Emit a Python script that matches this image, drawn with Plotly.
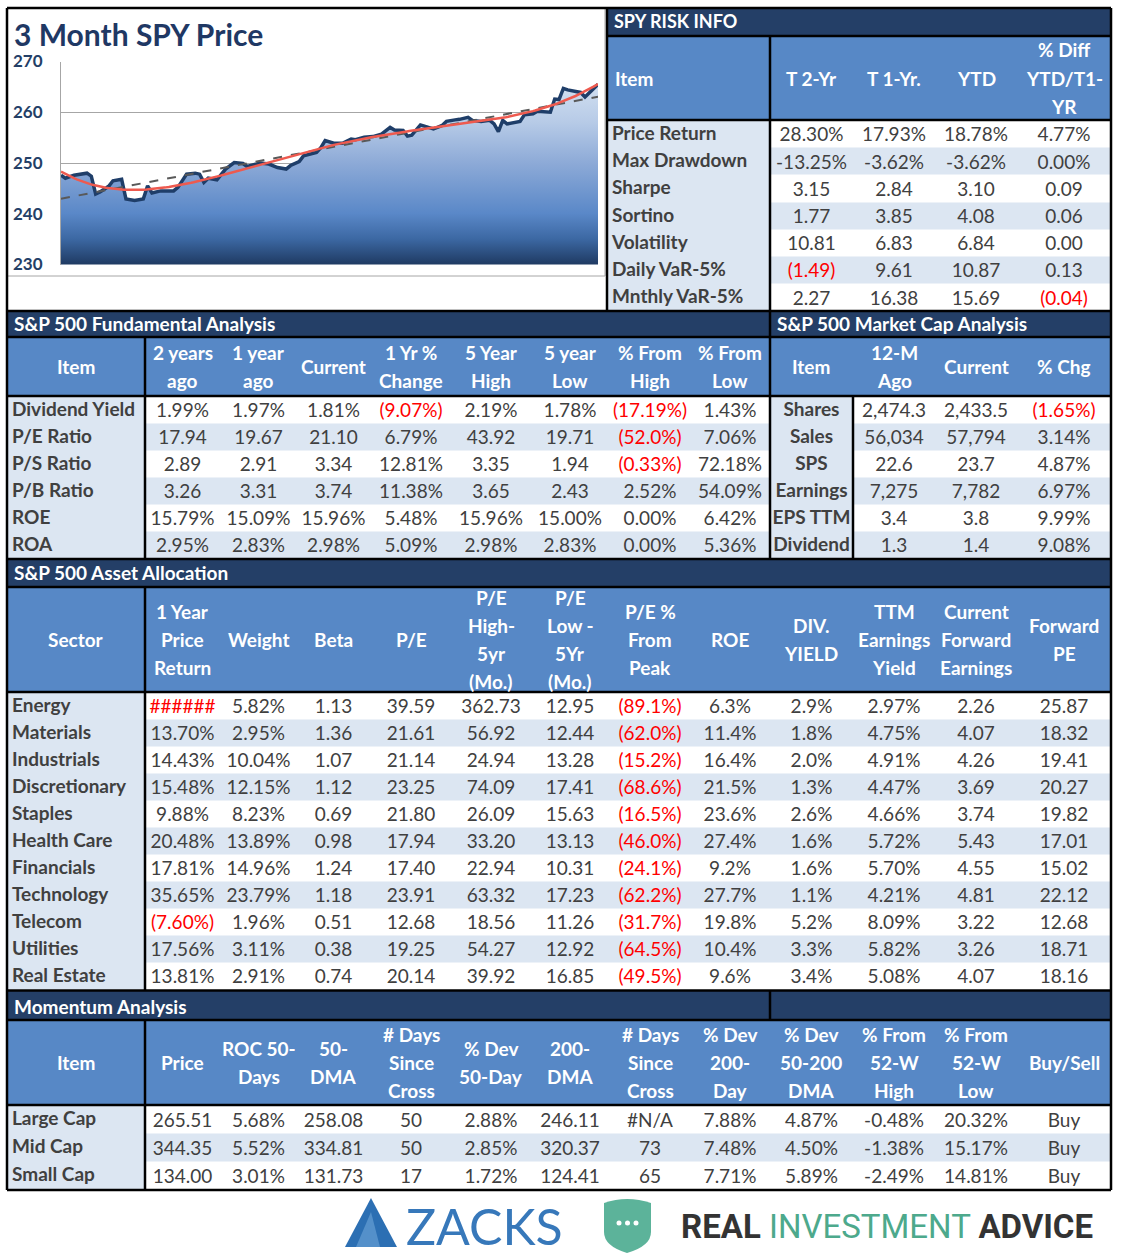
import numpy as np
import plotly.graph_objects as go

W, H = 1129, 1255

# ---------------- chart data (3 month SPY price) ----------------
chart_title = "3 Month SPY Price"
day = [0, 1, 3, 6, 7, 8, 9, 11, 12, 14, 15, 17, 19, 20, 21, 23, 26, 27, 29, 31,
       32, 33, 34, 36, 38, 40, 42, 43, 46, 48, 50, 52, 53, 55, 56, 59, 60, 61, 63, 65,
       67, 68, 70, 72, 74, 76, 77, 79, 80, 81, 83, 84, 86, 88, 89, 91, 92, 94, 95, 97,
       99, 100, 101, 102, 103, 106, 107, 109, 110, 113, 114, 115, 116, 117, 120, 121, 122, 124]
price = [247.6, 247.0, 247.6, 248.0, 247.4, 243.9, 244.3, 245.4, 246.5, 246.8, 242.9, 242.6, 242.9, 245.5, 244.1, 244.5, 244.5, 245.2, 247.8, 248.0,
         247.8, 246.2, 247.0, 246.7, 248.8, 250.1, 249.9, 249.3, 250.0, 249.8, 249.1, 248.8, 249.5, 250.3, 251.4, 252.1, 253.0, 254.4, 253.9, 253.9,
         254.7, 254.6, 255.1, 255.2, 255.7, 257.0, 256.5, 256.4, 255.3, 255.5, 257.5, 257.2, 256.7, 257.4, 258.2, 258.5, 258.6, 259.0, 258.4, 258.2,
         258.4, 257.7, 256.2, 258.4, 257.7, 258.2, 259.5, 259.7, 260.2, 260.0, 262.6, 262.5, 264.7, 264.4, 263.9, 263.0, 263.8, 265.51]
y_ticks = [230, 240, 250, 260, 270]

# ---------------- SPY risk info ----------------
risk_title = "SPY RISK INFO"
risk_headers = ["Item", "T 2-Yr", "T 1-Yr.", "YTD", "% Diff<br>YTD/T1-<br>YR"]
risk_items = ["Price Return", "Max Drawdown", "Sharpe", "Sortino", "Volatility", "Daily VaR-5%", "Mnthly VaR-5%"]
risk_t2 = ["28.30%", "-13.25%", "3.15", "1.77", "10.81", "(1.49)", "2.27"]
risk_t1 = ["17.93%", "-3.62%", "2.84", "3.85", "6.83", "9.61", "16.38"]
risk_ytd = ["18.78%", "-3.62%", "3.10", "4.08", "6.84", "10.87", "15.69"]
risk_diff = ["4.77%", "0.00%", "0.09", "0.06", "0.00", "0.13", "(0.04)"]

# ---------------- Fundamental analysis ----------------
fund_title = "S&P 500 Fundamental Analysis"
fund_headers = ["Item", "2 years<br>ago", "1 year<br>ago", "Current", "1 Yr %<br>Change", "5 Year<br>High",
                "5 year<br>Low", "% From<br>High", "% From<br>Low"]
fund_items = ["Dividend Yield", "P/E Ratio", "P/S Ratio", "P/B Ratio", "ROE", "ROA"]
fund_2y = ["1.99%", "17.94", "2.89", "3.26", "15.79%", "2.95%"]
fund_1y = ["1.97%", "19.67", "2.91", "3.31", "15.09%", "2.83%"]
fund_cur = ["1.81%", "21.10", "3.34", "3.74", "15.96%", "2.98%"]
fund_chg = ["(9.07%)", "6.79%", "12.81%", "11.38%", "5.48%", "5.09%"]
fund_5yh = ["2.19%", "43.92", "3.35", "3.65", "15.96%", "2.98%"]
fund_5yl = ["1.78%", "19.71", "1.94", "2.43", "15.00%", "2.83%"]
fund_fromhigh = ["(17.19%)", "(52.0%)", "(0.33%)", "2.52%", "0.00%", "0.00%"]
fund_fromlow = ["1.43%", "7.06%", "72.18%", "54.09%", "6.42%", "5.36%"]

# ---------------- Market cap analysis ----------------
mcap_title = "S&P 500 Market Cap Analysis"
mcap_headers = ["Item", "12-M<br>Ago", "Current", "% Chg"]
mcap_items = ["Shares", "Sales", "SPS", "Earnings", "EPS TTM", "Dividend"]
mcap_12m = ["2,474.3", "56,034", "22.6", "7,275", "3.4", "1.3"]
mcap_cur = ["2,433.5", "57,794", "23.7", "7,782", "3.8", "1.4"]
mcap_chg = ["(1.65%)", "3.14%", "4.87%", "6.97%", "9.99%", "9.08%"]

# ---------------- Asset allocation ----------------
asset_title = "S&P 500 Asset Allocation"
asset_headers = ["Sector", "1 Year<br>Price<br>Return", "Weight", "Beta", "P/E", "P/E<br>High-<br>5yr<br>(Mo.)",
                 "P/E<br>Low -<br>5Yr<br>(Mo.)", "P/E %<br>From<br>Peak", "ROE", "DIV.<br>YIELD",
                 "TTM<br>Earnings<br>Yield", "Current<br>Forward<br>Earnings", "Forward<br>PE"]
sectors = ["Energy", "Materials", "Industrials", "Discretionary", "Staples", "Health Care", "Financials",
           "Technology", "Telecom", "Utilities", "Real Estate"]
sec_ret1y = ["######", "13.70%", "14.43%", "15.48%", "9.88%", "20.48%", "17.81%", "35.65%", "(7.60%)", "17.56%", "13.81%"]
sec_weight = ["5.82%", "2.95%", "10.04%", "12.15%", "8.23%", "13.89%", "14.96%", "23.79%", "1.96%", "3.11%", "2.91%"]
sec_beta = ["1.13", "1.36", "1.07", "1.12", "0.69", "0.98", "1.24", "1.18", "0.51", "0.38", "0.74"]
sec_pe = ["39.59", "21.61", "21.14", "23.25", "21.80", "17.94", "17.40", "23.91", "12.68", "19.25", "20.14"]
sec_pe_high = ["362.73", "56.92", "24.94", "74.09", "26.09", "33.20", "22.94", "63.32", "18.56", "54.27", "39.92"]
sec_pe_low = ["12.95", "12.44", "13.28", "17.41", "15.63", "13.13", "10.31", "17.23", "11.26", "12.92", "16.85"]
sec_pe_peak = ["(89.1%)", "(62.0%)", "(15.2%)", "(68.6%)", "(16.5%)", "(46.0%)", "(24.1%)", "(62.2%)", "(31.7%)", "(64.5%)", "(49.5%)"]
sec_roe = ["6.3%", "11.4%", "16.4%", "21.5%", "23.6%", "27.4%", "9.2%", "27.7%", "19.8%", "10.4%", "9.6%"]
sec_divy = ["2.9%", "1.8%", "2.0%", "1.3%", "2.6%", "1.6%", "1.6%", "1.1%", "5.2%", "3.3%", "3.4%"]
sec_ttm_ey = ["2.97%", "4.75%", "4.91%", "4.47%", "4.66%", "5.72%", "5.70%", "4.21%", "8.09%", "5.82%", "5.08%"]
sec_fwd_earn = ["2.26", "4.07", "4.26", "3.69", "3.74", "5.43", "4.55", "4.81", "3.22", "3.26", "4.07"]
sec_fwd_pe = ["25.87", "18.32", "19.41", "20.27", "19.82", "17.01", "15.02", "22.12", "12.68", "18.71", "18.16"]

# ---------------- Momentum analysis ----------------
mom_title = "Momentum Analysis"
mom_headers = ["Item", "Price", "ROC 50-<br>Days", "50-<br>DMA", "# Days<br>Since<br>Cross", "% Dev<br>50-Day",
               "200-<br>DMA", "# Days<br>Since<br>Cross", "% Dev<br>200-<br>Day", "% Dev<br>50-200<br>DMA",
               "% From<br>52-W<br>High", "% From<br>52-W<br>Low", "Buy/Sell"]
mom_items = ["Large Cap", "Mid Cap", "Small Cap"]
mom_price = ["265.51", "344.35", "134.00"]
mom_roc50 = ["5.68%", "5.52%", "3.01%"]
mom_dma50 = ["258.08", "334.81", "131.73"]
mom_days50 = ["50", "50", "17"]
mom_dev50 = ["2.88%", "2.85%", "1.72%"]
mom_dma200 = ["246.11", "320.37", "124.41"]
mom_days200 = ["#N/A", "73", "65"]
mom_dev200 = ["7.88%", "7.48%", "7.71%"]
mom_dev50_200 = ["4.87%", "4.50%", "5.89%"]
mom_from_high = ["-0.48%", "-1.38%", "-2.49%"]
mom_from_low = ["20.32%", "15.17%", "14.81%"]
mom_signal = ["Buy", "Buy", "Buy"]

# ---------------- styling ----------------
NAVY = "#243F67"
HDR = "#5788C6"
LIGHT = "#DCE6F2"
WHITE = "#FFFFFF"
TXT = "#404040"
RED = "#FF0000"
FONT = "Lato"


def X(v):
    return v / W


def Y(v):
    return 1 - v / H


GRID = [7, 145, 220, 297, 370, 452, 530, 610, 690, 770, 853, 935, 1017, 1111]
RISK_EDGES = [607, 770, 853, 935, 1017, 1111]
FUND_EDGES = GRID[:10]
MCAP_EDGES = [770, 853, 935, 1017, 1111]

fig = go.Figure()

# ---------------- price chart ----------------
d = np.array(day, dtype=float)
p = np.array(price, dtype=float)
xs_fit = np.linspace(d.min(), d.max(), 240)
lin_fit = np.polyval(np.polyfit(d, p, 1), xs_fit)
poly_fit = np.polyval(np.polyfit(d, p, 4), xs_fit)

fig.add_trace(go.Scatter(
    x=day, y=price, mode="lines", line=dict(color="#1F3E69", width=3.5),
    fill="tozeroy",
    fillgradient=dict(type="vertical", start=230, stop=266,
                      colorscale=[[0, "#1F3A62"], [0.14, "#3C68A3"], [0.28, "#5A88C8"],
                                  [0.556, "#8DAAD7"], [0.78, "#B7CBE7"], [1, "#D3E0F1"]]),
    hoverinfo="skip", showlegend=False))
fig.add_trace(go.Scatter(x=xs_fit, y=lin_fit, mode="lines",
                         line=dict(color="#595959", width=2, dash="dash"), hoverinfo="skip", showlegend=False))
fig.add_trace(go.Scatter(x=xs_fit, y=poly_fit, mode="lines",
                         line=dict(color="#EE5A4F", width=2.5), hoverinfo="skip", showlegend=False))

shapes = []
annots = []


def rect(x0, y0, x1, y1, fill, layer="below", line=None):
    shapes.append(dict(type="rect", xref="paper", yref="paper", x0=X(x0), x1=X(x1), y0=Y(y1), y1=Y(y0),
                       fillcolor=fill, line=line or dict(width=0), layer=layer))


def hline(y, x0, x1, w=2.5):
    shapes.append(dict(type="line", xref="paper", yref="paper", x0=X(x0), x1=X(x1), y0=Y(y), y1=Y(y),
                       line=dict(color="black", width=w), layer="above"))


def vline(x, y0, y1, w=2.5):
    shapes.append(dict(type="line", xref="paper", yref="paper", x0=X(x), x1=X(x), y0=Y(y0), y1=Y(y1),
                       line=dict(color="black", width=w), layer="above"))


def text(s, x, y, size=19, color="white", xanchor="left", bold=True, family=FONT):
    annots.append(dict(text=("<b>%s</b>" % s) if bold else s, x=X(x), y=Y(y), xref="paper", yref="paper",
                       showarrow=False, xanchor=xanchor, yanchor="middle",
                       font=dict(family=family, size=size, color=color)))


# chart box + title
rect(7, 8, 605, 276, "white", line=dict(color="#A6A6A6", width=1))
text(chart_title, 12, 33.5, size=30, color="#1F3864")

# title bars & header bands
rect(607, 8, 1111, 36, NAVY)
rect(607, 36, 1111, 120, HDR)
rect(7, 311, 1111, 337, NAVY)
rect(7, 337, 1111, 396, HDR)
rect(7, 559, 1111, 587, NAVY)
rect(7, 587, 1111, 692, HDR)
rect(7, 990, 1111, 1020, NAVY)
rect(7, 1020, 1111, 1105, HDR)

text(risk_title, 612, 21, size=18)
text(fund_title, 12, 323.5)
text(mcap_title, 775, 323.5)
text(asset_title, 12, 572)
text(mom_title, 12, 1006)


def headers(labels, edges, y0, y1, first_left=False, spacing=28):
    yc = (y0 + y1) / 2
    for i, lab in enumerate(labels):
        lines = lab.split("<br>")
        n = len(lines)
        for k, ln in enumerate(lines):
            yy = yc + (k - (n - 1) / 2) * spacing
            if i == 0 and first_left:
                text(ln, edges[0] + 6, yy)
            else:
                text(ln, (edges[i] + edges[i + 1]) / 2, yy, xanchor="center")


headers(risk_headers, RISK_EDGES, 36, 120, first_left=True)
headers(fund_headers, FUND_EDGES, 337, 396)
headers(mcap_headers, MCAP_EDGES, 337, 396)
headers(asset_headers, GRID, 587, 692)
headers(mom_headers, GRID, 1020, 1105)


def is_red(v):
    return v.startswith("(") or (len(v) > 0 and set(v) == {"#"})


def add_table(cols, edges, top, row_h, first_center=False):
    n = len(cols[0])
    m = len(cols)
    row_edges = [top + r * row_h for r in range(n + 1)]
    z = [[1] + [r % 2] * (m - 1) for r in range(n)]
    fig.add_trace(go.Heatmap(x=edges, y=row_edges, z=z, zmin=0, zmax=1,
                             colorscale=[[0, WHITE], [1, LIGHT]], showscale=False,
                             hoverinfo="skip", xaxis="x2", yaxis="y2"))
    tx, ty, tt, tc, tp = [], [], [], [], []
    for j, col in enumerate(cols):
        for r, v in enumerate(col):
            yc = top + (r + 0.5) * row_h + 2.5
            if j == 0:
                tt.append("<b>%s</b>" % v)
                tc.append(TXT)
                ty.append(yc - 1.5)
                if first_center:
                    tx.append((edges[0] + edges[1]) / 2)
                    tp.append("middle center")
                else:
                    tx.append(edges[0] + 5)
                    tp.append("middle right")
            else:
                tt.append(v)
                tc.append(RED if is_red(v) else TXT)
                ty.append(yc)
                tx.append((edges[j] + edges[j + 1]) / 2)
                tp.append("middle center")
    fig.add_trace(go.Scatter(x=tx, y=ty, text=tt, mode="text", textposition=tp,
                             textfont=dict(family=FONT, size=19, color=tc),
                             hoverinfo="skip", showlegend=False, xaxis="x2", yaxis="y2"))


add_table([risk_items, risk_t2, risk_t1, risk_ytd, risk_diff], RISK_EDGES, 120.5, 190.5 / 7)
add_table([fund_items, fund_2y, fund_1y, fund_cur, fund_chg, fund_5yh, fund_5yl, fund_fromhigh, fund_fromlow],
          FUND_EDGES, 396.5, 27)
add_table([mcap_items, mcap_12m, mcap_cur, mcap_chg], MCAP_EDGES, 396.5, 27, first_center=True)
add_table([sectors, sec_ret1y, sec_weight, sec_beta, sec_pe, sec_pe_high, sec_pe_low, sec_pe_peak, sec_roe,
           sec_divy, sec_ttm_ey, sec_fwd_earn, sec_fwd_pe], GRID, 692.5, 27)
add_table([mom_items, mom_price, mom_roc50, mom_dma50, mom_days50, mom_dev50, mom_dma200, mom_days200,
           mom_dev200, mom_dev50_200, mom_from_high, mom_from_low, mom_signal], GRID, 1105.5, 28)

# black rules
for yy, x0, x1 in [(8, 7, 1111), (36, 607, 1111), (120, 607, 1111), (311, 7, 1111), (337, 7, 1111),
                   (396, 7, 1111), (559, 7, 1111), (587, 7, 1111), (692, 7, 1111), (990.5, 7, 1111),
                   (1020, 7, 1111), (1105, 7, 1111), (1190, 7, 1111)]:
    hline(yy, x0, x1)
for xx, y0, y1 in [(7, 8, 1190), (1111, 8, 1190), (607, 8, 311), (770, 36, 559), (770, 990, 1020),
                   (145, 337, 559), (145, 587, 990), (145, 1020, 1190), (853, 396, 559)]:
    vline(xx, y0, y1)


# logos
def path(pts):
    return "M " + " L ".join("%f,%f" % (X(a), Y(b)) for a, b in pts) + " Z"


shapes.append(dict(type="path", xref="paper", yref="paper", path=path([(345, 1247), (371, 1198), (397, 1247)]),
                   fillcolor="#2C6FB3", line=dict(width=0), layer="above"))
shapes.append(dict(type="path", xref="paper", yref="paper", path=path([(356, 1247), (371, 1212), (380, 1247)]),
                   fillcolor="#6FA6D8", line=dict(width=0), layer="above", opacity=0.6))
text("ZACKS", 404, 1226, size=50, color="#3778BA", bold=False)

shield = "M %f,%f Q %f,%f %f,%f L %f,%f Q %f,%f %f,%f Q %f,%f %f,%f Z" % (
    X(604), Y(1203), X(627), Y(1195), X(651), Y(1203), X(651), Y(1232),
    X(651), Y(1246), X(627), Y(1253), X(604), Y(1246), X(604), Y(1232))
shapes.append(dict(type="path", xref="paper", yref="paper", path=shield, fillcolor="#5CB39A",
                   line=dict(width=0), layer="above"))
for cx in (619, 627.5, 636):
    shapes.append(dict(type="circle", xref="paper", yref="paper", x0=X(cx - 2.5), x1=X(cx + 2.5),
                       y0=Y(1225.5), y1=Y(1220.5), fillcolor="white", line=dict(width=0), layer="above"))
annots.append(dict(text="<b>REAL</b> <span style='color:#4DA98C'>INVESTMENT</span> <b>ADVICE</b>",
                   x=X(679), y=Y(1226), xref="paper", yref="paper", showarrow=False,
                   xanchor="left", yanchor="middle", font=dict(family="Roboto", size=33, color="#333333")))

fig.update_layout(
    width=W, height=H, margin=dict(l=0, r=0, t=0, b=0, pad=0),
    paper_bgcolor="white", plot_bgcolor="rgba(0,0,0,0)", showlegend=False,
    font=dict(family=FONT), shapes=shapes, annotations=annots,
    xaxis=dict(domain=[X(61), X(598)], range=[d.min(), d.max()], visible=False, automargin=False),
    yaxis=dict(domain=[Y(264.5), Y(61.5)], range=[230, 270], tickvals=y_ticks,
               showgrid=True, gridcolor="#A6A6A6", gridwidth=1, zeroline=False,
               showline=True, linecolor="#A6A6A6", linewidth=1, ticks="", ticklabelstandoff=14,
               automargin=False,
               tickfont=dict(family=FONT, size=17, color=NAVY, weight="bold")),
    xaxis2=dict(domain=[0, 1], range=[0, W], visible=False, anchor="y2", automargin=False, fixedrange=True),
    yaxis2=dict(domain=[0, 1], range=[H, 0], visible=False, anchor="x2", automargin=False, fixedrange=True),
)

fig.write_html("out.html", config={"displayModeBar": False},
               post_script="document.body.style.margin='0px';")
